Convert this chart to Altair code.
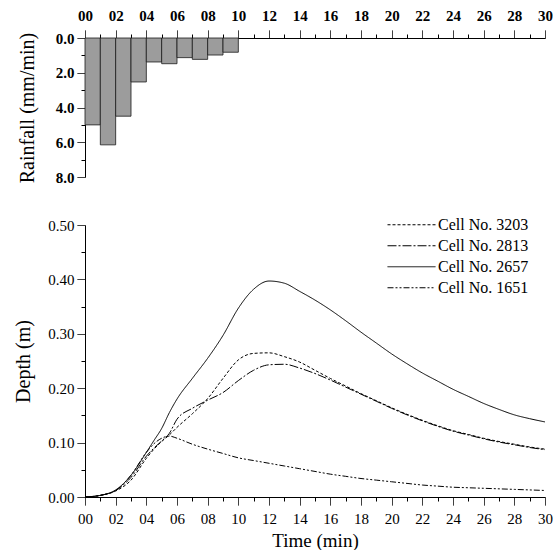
import altair as alt
import pandas as pd

# ---- data ----
rain_start = [0, 1, 2, 3, 4, 5, 6, 7, 8, 9]
rain_end = [1, 2, 3, 4, 5, 6, 7, 8, 9, 10]
rain_rate = [5.0, 6.15, 4.5, 2.53, 1.38, 1.48, 1.13, 1.23, 0.98, 0.82]

times = [0, 1, 2, 3, 4, 4.5, 5, 5.5, 6] + list(range(7, 31))

depth_3203 = [0, 0.003, 0.011, 0.031, 0.071, 0.088, 0.102, 0.114, 0.128,
              0.153, 0.181, 0.218, 0.252, 0.264, 0.265, 0.258, 0.248, 0.233,
              0.218, 0.204, 0.19, 0.177, 0.164, 0.152, 0.141, 0.131, 0.122,
              0.115, 0.108, 0.102, 0.097, 0.092, 0.088]
depth_2813 = [0, 0.003, 0.012, 0.036, 0.075, 0.09, 0.103, 0.117, 0.143,
              0.163, 0.178, 0.192, 0.214, 0.233, 0.243, 0.244, 0.237, 0.227,
              0.215, 0.202, 0.189, 0.176, 0.163, 0.151, 0.14, 0.13, 0.121,
              0.114, 0.107, 0.101, 0.096, 0.091, 0.087]
depth_2657 = [0, 0.003, 0.013, 0.04, 0.082, 0.104, 0.126, 0.155, 0.18,
              0.218, 0.255, 0.297, 0.347, 0.382, 0.397, 0.393, 0.378, 0.362,
              0.344, 0.324, 0.303, 0.283, 0.263, 0.245, 0.228, 0.213, 0.198,
              0.185, 0.172, 0.161, 0.151, 0.144, 0.138]
depth_1651 = [0, 0.003, 0.012, 0.04, 0.082, 0.098, 0.108, 0.112, 0.108,
              0.097, 0.088, 0.08, 0.072, 0.067, 0.062, 0.057, 0.052, 0.047,
              0.042, 0.038, 0.034, 0.031, 0.028, 0.025, 0.022, 0.02, 0.018,
              0.017, 0.016, 0.015, 0.014, 0.013, 0.012]

cells = ["Cell No. 3203", "Cell No. 2813", "Cell No. 2657", "Cell No. 1651"]
dashes = [[3, 2], [9, 2, 2, 2], [1, 0], [6, 2, 2, 2, 2, 2]]

rain_df = pd.DataFrame({"start": rain_start, "end": rain_end, "rate": rain_rate})
rows = []
for name, vals in zip(cells, [depth_3203, depth_2813, depth_2657, depth_1651]):
    for t, v in zip(times, vals):
        rows.append({"time": t, "depth": v, "cell": name})
depth_df = pd.DataFrame(rows)

FONT = "Liberation Serif"
minute_ticks = list(range(0, 31))
x_label_expr = "datum.value % 2 === 0 ? format(datum.value, '02d') : ''"
even_test = "datum.value % 2 === 0"
tenth_test = "round(datum.value * 100) % 10 === 0"


def tick_dash(test):
    return {"condition": {"test": test, "value": [1, 0]}, "value": [4, 30]}


W = 460

top = alt.Chart(rain_df).mark_rect(
    fill="#9c9c9c", stroke="#1a1a1a", strokeWidth=0.8
).encode(
    x=alt.X("start:Q", scale=alt.Scale(domain=[0, 30], nice=False),
            axis=alt.Axis(orient="top", values=minute_ticks, labelExpr=x_label_expr,
                          tickSize=8, tickDash=tick_dash(even_test), labelPadding=7,
                          title=None, labelFontWeight="bold")),
    x2="end:Q",
    y=alt.Y("rate:Q", scale=alt.Scale(domain=[0, 8], reverse=True, nice=False),
            axis=alt.Axis(values=[0, 1, 2, 3, 4, 5, 6, 7, 8],
                          labelExpr="datum.value % 2 === 0 ? format(datum.value, '.1f') : ''",
                          tickSize=8, tickDash=tick_dash(even_test), labelPadding=3,
                          title="Rainfall (mm/min)", titlePadding=18, titleFontSize=20,
                          labelFontWeight="bold")),
    y2=alt.Y2(datum=0),
).properties(width=W, height=139)

bottom = alt.Chart(depth_df).mark_line(
    color="black", strokeWidth=1, interpolate="monotone"
).encode(
    x=alt.X("time:Q", scale=alt.Scale(domain=[0, 30], nice=False),
            axis=alt.Axis(values=minute_ticks, labelExpr=x_label_expr,
                          tickSize=8, tickDash=tick_dash(even_test), labelPadding=6,
                          title="Time (min)", titlePadding=5, titleFontSize=19)),
    y=alt.Y("depth:Q", scale=alt.Scale(domain=[0, 0.5], nice=False),
            axis=alt.Axis(values=[round(i * 0.05, 2) for i in range(11)],
                          labelExpr=tenth_test + " ? format(datum.value, '.2f') : ''",
                          tickSize=8, tickDash=tick_dash(tenth_test), labelPadding=3,
                          title="Depth (m)", titlePadding=14, titleFontSize=20)),
    strokeDash=alt.StrokeDash("cell:N",
                              scale=alt.Scale(domain=cells, range=dashes),
                              legend=alt.Legend(orient="none", legendX=302, legendY=177,
                                                title=None, symbolType="stroke",
                                                symbolSize=2304, clipHeight=19.5,
                                                symbolStrokeWidth=1,
                                                symbolStrokeColor="black",
                                                labelFontSize=16, labelFont=FONT,
                                                labelColor="black", labelOffset=2,
                                                rowPadding=1)),
    detail="cell:N",
).properties(width=W, height=272)

chart = alt.vconcat(top, bottom, spacing=33).properties(
    padding={"left": 13, "top": 8, "right": 0, "bottom": 0}
).configure_axis(
    labelFont=FONT, titleFont=FONT, labelFontSize=15, titleFontSize=18,
    titleFontWeight="normal", labelColor="black", titleColor="black",
    domainColor="black", tickColor="black", grid=False, labelFlush=False,
    labelOverlap=False
).configure_view(stroke=None)

chart.save("out.html", embed_options={"renderer": "svg", "actions": False})
